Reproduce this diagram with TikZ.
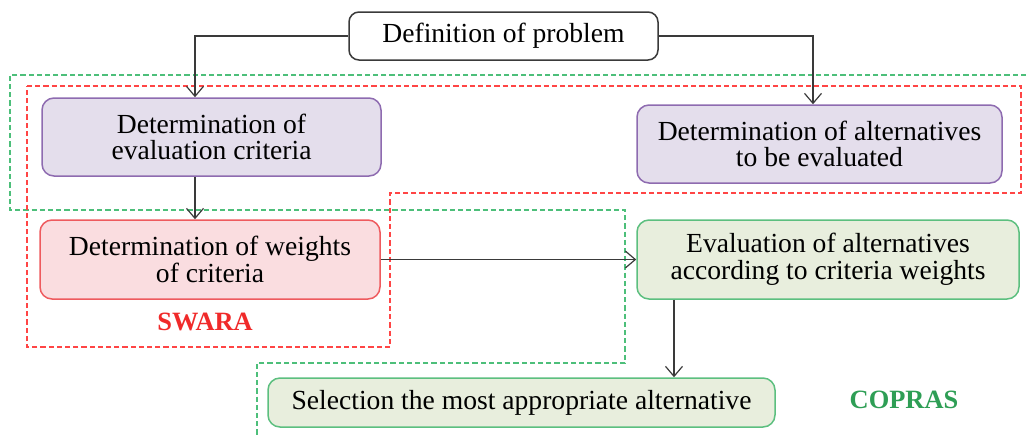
\documentclass[tikz,border=0pt]{standalone}
\usepackage{fontspec}
\setmainfont{Liberation Serif}
\usepackage{tikz}
\usetikzlibrary{arrows.meta}

\definecolor{boxline}{HTML}{3A3A3A}
\definecolor{purpfill}{HTML}{E4DEEC}
\definecolor{purpline}{HTML}{8E6BB0}
\definecolor{pinkfill}{HTML}{FADDE0}
\definecolor{pinkline}{HTML}{EE5A5E}
\definecolor{grnfill}{HTML}{E8EEDD}
\definecolor{grnline}{HTML}{5CBF7F}
\definecolor{swarared}{HTML}{F02A2A}
\definecolor{copgreen}{HTML}{2E9E55}
\definecolor{dashred}{HTML}{FF4545}
\definecolor{dashgrn}{HTML}{4DBF7A}

\begin{document}
\begin{tikzpicture}[x=0.5pt,y=-0.5pt,
    font=\fontsize{13.8pt}{13.3pt}\selectfont,
    stage/.style={draw,rounded corners=6pt,line width=0.75pt,align=center,inner sep=0pt},
    arr/.style={draw=boxline,line width=0.6pt,-{Straight Barb[length=5pt,width=8.5pt]}},
    region/.style={line width=0.6pt,dash pattern=on 2.6pt off 1.5pt}]
			%%%%% START %%%%%
			\useasboundingbox (0,0) rectangle (1028,435);
			
			% dashed method regions
			\draw[region,draw=dashgrn] (1026,75) -- (10,75) -- (10,210) -- (625,210) -- (625,363) -- (257,363) -- (257,435);
			\draw[region,draw=dashred] (27,86) -- (1021,86) -- (1021,193) -- (390,193) -- (390,347) -- (27,347) -- cycle;
			
			% boxes
			\node[stage,draw=boxline,fill=white,rounded corners=5pt,minimum width=154.5pt,minimum height=24pt] (def) at (503.5,36) {Definition of problem};
			\node[stage,draw=purpline,fill=purpfill,minimum width=169.5pt,minimum height=39pt] (crit) at (211.5,137) {Determination of\\evaluation criteria};
			\node[stage,draw=purpline,fill=purpfill,minimum width=182.5pt,minimum height=39pt] (alt) at (819.5,144) {Determination of alternatives\\to be evaluated};
			\node[stage,draw=pinkline,fill=pinkfill,minimum width=170pt,minimum height=39.5pt] (wts) at (210,259.5) {Determination of weights\\of criteria};
			\node[stage,draw=grnline,fill=grnfill,minimum width=191pt,minimum height=39.5pt] (eval) at (828,259.5) {Evaluation of alternatives\\according to criteria weights};
			\node[stage,draw=grnline,fill=grnfill,minimum width=253.5pt,minimum height=24.5pt] (sel) at (521.5,402.5) {Selection the most appropriate alternative};
			
			\node[text=swarared,font=\fontsize{13.2pt}{14pt}\selectfont\bfseries] (swara) at (205,322) {SWARA};
			\node[text=copgreen,font=\fontsize{13.2pt}{14pt}\selectfont\bfseries] (copras) at (904,400) {COPRAS};
			
			% connectors
			\draw[arr] (def.west) -| ([xshift=-8.25pt]crit.north);
			\draw[arr] (def.east) -| ([xshift=-3.25pt]alt.north);
			\draw[arr] ([xshift=-8.25pt]crit.south) -- ([xshift=-8.25pt]crit.south |- wts.north);
			\draw[arr] (wts.east) -- (eval.west);
			\draw[arr] ([xshift=-77pt]eval.south) -- ([xshift=-77pt]eval.south |- sel.north);
			%%%%% END %%%%%
\end{tikzpicture}
\end{document}
